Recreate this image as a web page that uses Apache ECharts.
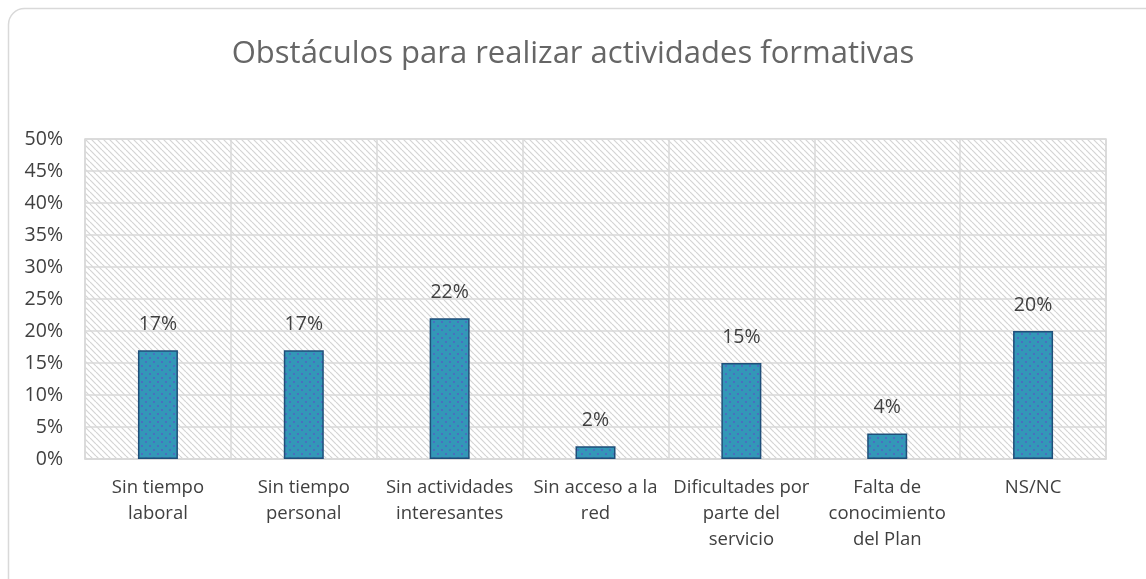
<!DOCTYPE html>
<html>
<head>
<meta charset="utf-8">
<script src="https://cdn.jsdelivr.net/npm/echarts@6/dist/echarts.min.js"></script>
<style>
  html, body { margin: 0; padding: 0; background: #fff; }
  #chart_box { width: 1146px; height: 579px; }
</style>
</head>
<body>
<div id="chart_box"></div>
<script>
// datos del gráfico
var categorias = [
  "Sin tiempo\nlaboral",
  "Sin tiempo\npersonal",
  "Sin actividades\ninteresantes",
  "Sin acceso a la\nred",
  "Dificultades por\nparte del\nservicio",
  "Falta de\nconocimiento\ndel Plan",
  "NS/NC"
];
var valores = [17, 17, 22, 2, 15, 4, 20];

// trama rayada del fondo
function tramaFondo() {
  var c = document.createElement("canvas");
  c.width = 6; c.height = 6;
  var ctx = c.getContext("2d");
  ctx.fillStyle = "#ffffff";
  ctx.fillRect(0, 0, 6, 6);
  ctx.strokeStyle = "#d4d4d4";
  ctx.lineWidth = 1.2;
  for (var k = -6; k <= 12; k += 6) {
    ctx.beginPath();
    ctx.moveTo(k, 0);
    ctx.lineTo(k + 6, 6);
    ctx.stroke();
  }
  return c;
}

// puntos de las barras
function tramaBarra() {
  var c = document.createElement("canvas");
  c.width = 8; c.height = 8;
  var ctx = c.getContext("2d");
  ctx.fillStyle = "#3397b8";
  ctx.fillRect(0, 0, 8, 8);
  ctx.fillStyle = "#4a6fc0";
  ctx.fillRect(1, 1, 2, 2);
  ctx.fillRect(5, 5, 2, 2);
  return c;
}

var mycharts = echarts.init(document.getElementById("chart_box"));

var option = {
  backgroundColor: "#ffffff",
  animation: false,
  title: {
    text: "Obstáculos para realizar actividades formativas",
    left: "center",
    top: 34,
    textStyle: {
      fontFamily: "Open Sans",
      fontWeight: 400,
      fontSize: 31,
      color: "#666666"
    }
  },
  graphic: [{
    type: "rect",
    shape: { x: 8.5, y: 8.5, width: 1160, height: 600, r: 16 },
    style: { fill: null, stroke: "#d9d9d9", lineWidth: 1.5 },
    silent: true
  }],
  grid: {
    left: 85,
    right: 40,
    top: 139,
    bottom: 120,
    show: true,
    borderColor: "#d9d9d9",
    borderWidth: 1.5,
    backgroundColor: { image: tramaFondo(), repeat: "repeat" }
  },
  xAxis: {
    type: "category",
    data: categorias,
    axisTick: { show: false },
    axisLine: { lineStyle: { color: "#d9d9d9", width: 1.5 } },
    splitLine: { show: true, lineStyle: { color: "#d9d9d9", width: 1.5 } },
    axisLabel: {
      interval: 0,
      margin: 16,
      fontFamily: "Open Sans",
      fontSize: 18.5,
      lineHeight: 26,
      color: "#404040"
    }
  },
  yAxis: {
    type: "value",
    min: 0,
    max: 50,
    interval: 5,
    axisLine: { show: false },
    axisTick: { show: false },
    splitLine: { lineStyle: { color: "#d9d9d9", width: 1.5 } },
    axisLabel: {
      formatter: "{value}%",
      margin: 22,
      fontFamily: "Open Sans",
      fontSize: 19.5,
      color: "#404040"
    }
  },
  series: [{
    type: "bar",
    data: valores,
    barWidth: 40,
    itemStyle: {
      color: { image: tramaBarra(), repeat: "repeat" },
      borderColor: "#1f4e79",
      borderWidth: 1.5
    },
    label: {
      show: true,
      position: "top",
      distance: 16,
      formatter: "{c}%",
      fontFamily: "Open Sans",
      fontSize: 19.5,
      color: "#404040"
    }
  }]
};

mycharts.setOption(option);
</script>
</body>
</html>
